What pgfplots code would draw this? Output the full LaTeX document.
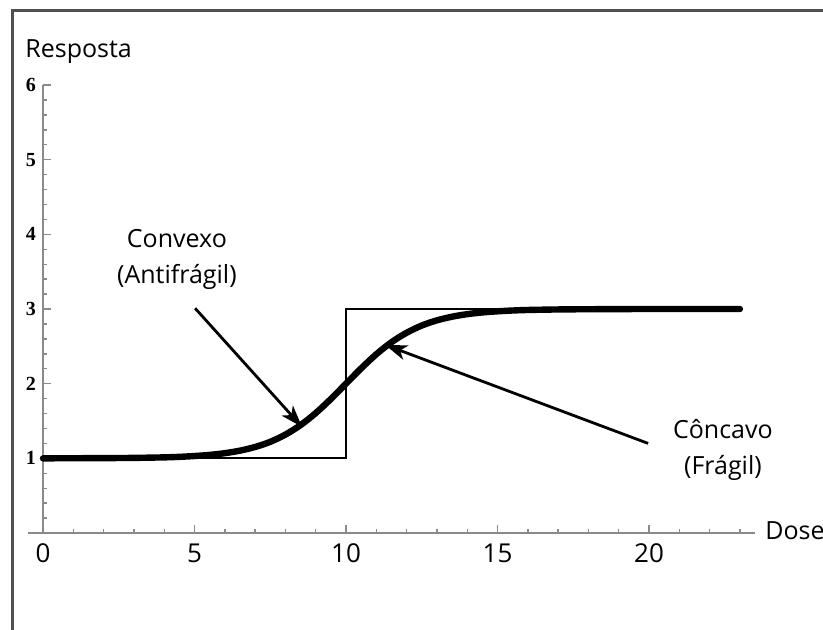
\documentclass[border=0pt]{standalone}
\usepackage{pgfplots}
\pgfplotsset{compat=1.18}
\usetikzlibrary{arrows.meta}
\usepackage{fontspec}
\setmainfont{Open Sans}
\newfontfamily\serifnum{Liberation Serif}
\definecolor{axgray}{HTML}{8A8A8A}
\definecolor{framegray}{HTML}{505050}
\begin{document}
\begin{tikzpicture}
\begin{scope}[x=0.5pt,y=-0.5pt]
\draw[framegray,line width=1.5pt] (12,640) -- (12,11) -- (840,11);
\node[anchor=base west,inner sep=0pt,font=\fontsize{12.5}{16}\selectfont] at (25,58) {Resposta};
\node[anchor=base west,inner sep=0pt,font=\fontsize{12.5}{16}\selectfont] at (765,539) {Dose};
\end{scope}
\begin{axis}[
  at={(21.5pt,-266.5pt)}, anchor=origin,
  scale only axis, width=363.6pt, height=224pt,
  xmin=-0.5, xmax=23.5, ymin=0, ymax=6,
  axis lines=middle, axis line style={-, axgray, line width=0.8pt},
  hide obscured x ticks=false, hide obscured y ticks=false,
  xtick={0,5,10,15,20}, ytick={1,2,3,4,5,6},
  minor xtick={1,2,3,4,6,7,8,9,11,12,13,14,16,17,18,19,21,22,23},
  minor ytick={0.2,0.4,0.6,0.8,1.2,1.4,1.6,1.8,2.2,2.4,2.6,2.8,3.2,3.4,3.6,3.8,4.2,4.4,4.6,4.8,5.2,5.4,5.6,5.8},
  tick align=inside, major tick length=4pt, minor tick length=2.2pt,
  every tick/.style={axgray, line width=0.7pt},
  /pgf/number format/assume math mode=true,
  xticklabel style={font=\fontsize{13}{16}\selectfont, yshift=-2pt},
  yticklabel style={font=\serifnum\bfseries\fontsize{10}{11}\selectfont, xshift=0pt},
  clip=false,
]
\addplot[black, line width=1pt] coordinates {(0,1) (10,1) (10,3) (23,3)};
\addplot[black, line width=3.2pt, smooth, line cap=round] coordinates {
(0,1.000) (2,1.003) (3,1.006) (4,1.013) (4.5,1.020) (5,1.031) (5.5,1.046) (6,1.069) (6.5,1.103) (7,1.152) (7.5,1.221) (8,1.318) (8.5,1.445) (9,1.606) (9.5,1.795) (10,2.000) (10.5,2.205) (11,2.394) (11.5,2.555) (12,2.682) (12.5,2.779) (13,2.848) (13.5,2.897) (14,2.931) (14.5,2.954) (15,2.969) (15.5,2.980) (16,2.987) (17,2.994) (18,2.997) (20,3.000) (23,3.000)};
\draw[black, line width=1.4pt, -{Stealth[length=11pt,width=7.5pt,inset=3pt]}] (axis cs:5.02,3.01) -- (axis cs:8.55,1.42);
\draw[black, line width=1.4pt, -{Stealth[length=11pt,width=7.5pt,inset=3pt]}] (axis cs:19.97,1.20) -- (axis cs:11.29,2.52);
\node[align=center, font=\fontsize{12.5}{18}\selectfont] at (axis cs:4.42,3.67) {Convexo\\(Antifrágil)};
\node[align=center, font=\fontsize{12.5}{18}\selectfont] at (axis cs:22.44,1.11) {Côncavo\\(Frágil)};
\end{axis}
\pgfresetboundingbox
\path[use as bounding box] (0,0) rectangle (411.5pt,-315pt);
\end{tikzpicture}
\end{document}
